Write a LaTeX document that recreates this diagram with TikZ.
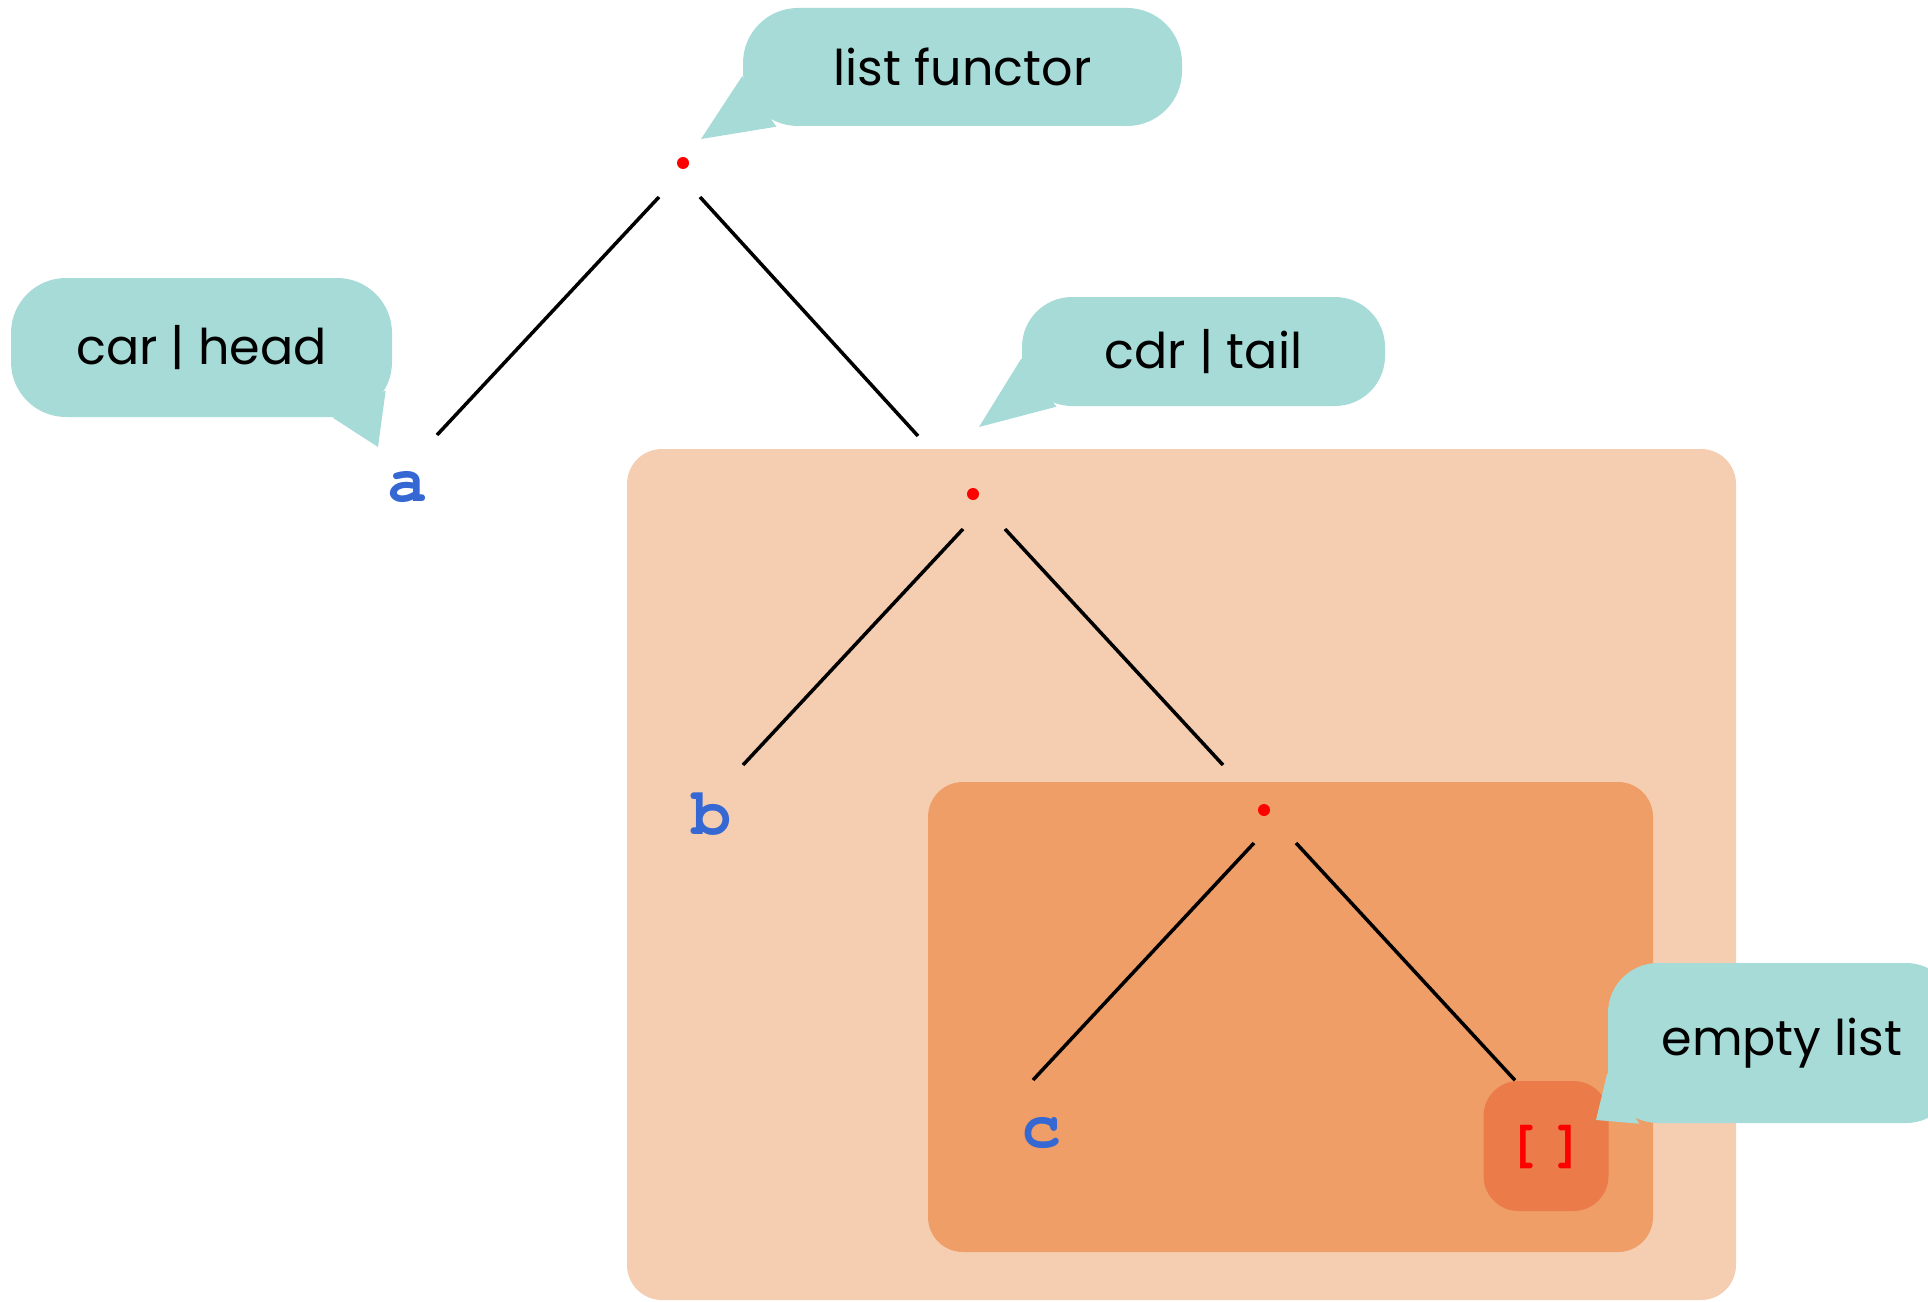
\documentclass[tikz,border=0pt]{standalone}
\usepackage[T1]{fontenc}
\usepackage{fontspec}
\setmainfont{Poppins}
\usepackage{xcolor}

\definecolor{bubblefill}{RGB}{167,219,216}
\definecolor{outerfill}{RGB}{245,205,176}
\definecolor{innerfill}{RGB}{239,158,103}
\definecolor{nilfill}{RGB}{235,124,74}
\definecolor{leafblue}{RGB}{53,104,210}

% Courier for the list elements
\newcommand{\codefont}{\fontencoding{T1}\fontfamily{pcr}\bfseries}

\begin{document}
\begin{tikzpicture}[
    fork/.style={circle, fill=red, inner sep=0pt, minimum size=0.12cm},
    leaf/.style={font=\codefont\fontsize{19}{20}\selectfont, text=leafblue, inner sep=0pt},
    nilbox/.style={rectangle, fill=nilfill, rounded corners=0.35cm, minimum width=1.25cm, minimum height=1.3cm, font=\codefont\fontsize{16}{18}\selectfont, text=red},
    edge/.style={line width=1pt},
    bubble/.style={rectangle, fill=bubblefill, rounded corners=0.55cm, inner sep=0pt, font=\fontsize{14}{16}\selectfont},
    pointer/.style={fill=bubblefill},
    group/.style={rounded corners=0.35cm}
]
\useasboundingbox (0,0) rectangle (19.28,-13.02);
\clip (0,0) rectangle (19.28,-13.02);

% Sublist boxes
\fill[group, fill=outerfill] (6.27,-4.49) rectangle (17.36,-13.00);
\fill[group, fill=innerfill] (9.28,-7.82) rectangle (16.53,-12.52);

% Cons cells
\node[fork] (root) at (6.83,-1.63) {};
\node[fork] (tl) at (9.73,-4.94) {};
\node[fork] (ttl) at (12.64,-8.10) {};

% Elements
\node[leaf] (a) at (4.08,-4.87) {a};
\node[leaf] (b) at (7.12,-8.14) {b};
\node[leaf] (c) at (10.42,-11.33) {c};
\node[nilbox] (nil) at (15.46,-11.46) {[\hspace{0.2em}]};

% Branches
\draw[edge] ([shift={(-0.24,-0.34)}]root.center) -- ([shift={(0.29,0.52)}]a.center);
\draw[edge] ([shift={(0.17,-0.34)}]root.center) -- ([shift={(-0.55,0.58)}]tl.center);
\draw[edge] ([shift={(-0.10,-0.35)}]tl.center) -- ([shift={(0.31,0.49)}]b.center);
\draw[edge] ([shift={(0.32,-0.35)}]tl.center) -- ([shift={(-0.41,0.45)}]ttl.center);
\draw[edge] ([shift={(-0.10,-0.33)}]ttl.center) -- ([shift={(-0.09,0.53)}]c.center);
\draw[edge] ([shift={(0.32,-0.33)}]ttl.center) -- ([xshift=-0.31cm]nil.north);

% Callouts
\node[bubble, minimum width=4.39cm, minimum height=1.18cm] (functor) at (9.625,-0.67) {list functor};
\fill[pointer] ([yshift=-0.09cm]functor.west) -- ([shift={(0.18,0.24)}]root.center) -- ([xshift=0.34cm]functor.south west) -- cycle;

\node[bubble, minimum width=3.81cm, minimum height=1.39cm] (carlabel) at (2.015,-3.475) {car | head};
\fill[pointer] ([shift={(-0.07,-0.43)}]carlabel.east) -- ([shift={(-0.30,0.40)}]a.center) -- ([xshift=-0.60cm]carlabel.south east) -- cycle;

\node[bubble, minimum width=3.63cm, minimum height=1.09cm, rounded corners=0.5cm] (cdrlabel) at (12.035,-3.515) {cdr | tail};
\fill[pointer] ([yshift=-0.07cm]cdrlabel.west) -- ([shift={(0.06,0.67)}]tl.center) -- ([xshift=0.35cm]cdrlabel.south west) -- cycle;

\node[bubble, minimum width=3.48cm, minimum height=1.60cm, rounded corners=0.5cm] (emptylabel) at (17.82,-10.43) {empty list};
\fill[pointer] ([yshift=-0.30cm]emptylabel.west) -- ([shift={(0.50,0.26)}]nil.center) -- ([xshift=0.32cm]emptylabel.south west) -- cycle;

\end{tikzpicture}
\end{document}
